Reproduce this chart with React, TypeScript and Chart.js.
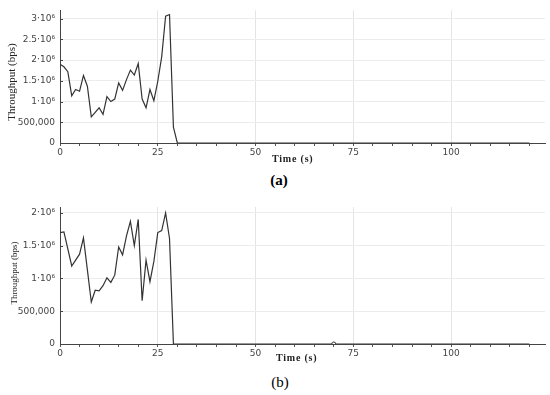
import React, { useEffect, useRef } from "react";
import { Chart, registerables } from "chart.js";

Chart.register(...registerables);

// ---- data ----
const timeA = [0, 1, 2, 3, 4, 5, 6, 7, 8, 9, 10, 11, 12, 13, 14, 15, 16, 17, 18, 19, 20, 21, 22, 23, 24, 25, 26, 27, 28, 29, 30, 120];
const throughputA = [
  1.9e6, 1.84e6, 1.72e6, 1.14e6, 1.29e6, 1.25e6, 1.63e6, 1.37e6, 0.63e6, 0.74e6, 0.85e6, 0.69e6, 1.12e6, 1.0e6, 1.06e6, 1.45e6,
  1.27e6, 1.53e6, 1.76e6, 1.64e6, 1.92e6, 1.06e6, 0.85e6, 1.29e6, 1.02e6, 1.49e6, 2.08e6, 3.06e6, 3.1e6, 0.38e6, 0, 0,
];

const timeB = [0, 1, 2, 3, 4, 5, 6, 7, 8, 9, 10, 11, 12, 13, 14, 15, 16, 17, 18, 19, 20, 21, 22, 23, 24, 25, 26, 27, 28, 29, 70, 120];
const throughputB = [
  1.7e6, 1.71e6, 1.45e6, 1.19e6, 1.28e6, 1.37e6, 1.62e6, 1.13e6, 0.64e6, 0.82e6, 0.81e6, 0.89e6, 1.01e6, 0.94e6, 1.05e6, 1.48e6,
  1.36e6, 1.65e6, 1.87e6, 1.5e6, 1.9e6, 0.66e6, 1.28e6, 0.95e6, 1.26e6, 1.7e6, 1.73e6, 2.0e6, 1.61e6, 0, 0, 0,
];
const markerTimeB = 70;

const xTickValues = [0, 5, 10, 15, 20, 25, 30, 35, 40, 45, 50, 55, 60, 65, 70, 75, 80, 85, 90, 95, 100, 105, 110, 115, 120];
const xLabelValues = [0, 25, 50, 75, 100];
const yTickValuesA = [0, 500000, 1000000, 1500000, 2000000, 2500000, 3000000];
const yTickValuesB = [0, 500000, 1000000, 1500000, 2000000];

const xTitle = "Time (s)";
const yTitle = "Throughput (bps)";

function fmtY(v: number): string {
  if (v === 0) return "0";
  if (v === 500000) return "500,000";
  return `${v / 1e6}·10⁶`;
}

type PanelProps = {
  times: number[];
  values: number[];
  yTicks: number[];
  yMax: number;
  height: number;
  padTop: number;
  xAxisHeight: number;
  markerTime?: number;
  yTitleX: number;
  yTitleY: number;
  yTitleSize: number;
  xTitleValue: number;
  xTitleOffset: number;
};

function Panel(p: PanelProps) {
  const ref = useRef<HTMLCanvasElement | null>(null);
  useEffect(() => {
    if (!ref.current) return;
    const extras = {
      id: "extras",
      afterDraw(chart: any) {
        const ctx = chart.ctx as CanvasRenderingContext2D;
        const xs = chart.scales.x;
        const ys = chart.scales.y;
        ctx.save();
        ctx.strokeStyle = "#444";
        ctx.lineWidth = 1;
        ys.ticks.forEach((t: any) => {
          const py = Math.round(ys.getPixelForValue(t.value)) + 0.5;
          ctx.beginPath();
          ctx.moveTo(xs.left, py);
          ctx.lineTo(xs.left + 3, py);
          ctx.stroke();
        });
        ctx.fillStyle = "#222";
        ctx.textAlign = "center";
        ctx.textBaseline = "middle";
        (ctx as any).letterSpacing = "0.8px";
        ctx.font = 'bold 10px "Liberation Serif"';
        ctx.fillText(xTitle, xs.getPixelForValue(p.xTitleValue), ys.bottom + p.xTitleOffset);
        (ctx as any).letterSpacing = "0px";
        ctx.translate(p.yTitleX, p.yTitleY);
        ctx.rotate(-Math.PI / 2);
        ctx.font = `${p.yTitleSize}px "Liberation Serif"`;
        ctx.fillText(yTitle, 0, 0);
        ctx.restore();
      },
    };
    const chart = new Chart(ref.current, {
      type: "line",
      data: {
        datasets: [
          {
            data: p.times.map((t, i) => ({ x: t, y: p.values[i] })),
            borderColor: "#333",
            borderWidth: 1.2,
            backgroundColor: "#fff",
            fill: false,
            tension: 0,
            pointRadius: (c: any) => (p.markerTime !== undefined && c.raw && c.raw.x === p.markerTime ? 2 : 0),
            pointBorderColor: "#333",
            pointBorderWidth: 1,
            pointBackgroundColor: "#fff",
          },
        ],
      },
      options: {
        animation: false,
        responsive: false,
        devicePixelRatio: 1,
        layout: { padding: { top: p.padTop, right: 5, left: 0, bottom: 0 } },
        plugins: { legend: { display: false }, tooltip: { enabled: false } },
        scales: {
          x: {
            type: "linear",
            min: 0,
            max: 124,
            afterBuildTicks: (s: any) => {
              s.ticks = xTickValues.map((v) => ({ value: v }));
            },
            afterFit: (s: any) => {
              s.height = p.xAxisHeight;
            },
            ticks: {
              autoSkip: false,
              maxRotation: 0,
              padding: 1,
              color: "#444",
              font: { family: '"DejaVu Sans"', size: 9 },
              callback: (v: any) => (xLabelValues.includes(Number(v)) ? String(v) : ""),
            },
            grid: {
              color: (c: any) => (c.tick && xLabelValues.includes(c.tick.value) && c.tick.value > 0 ? "#e4e4e4" : "rgba(0,0,0,0)"),
              tickColor: "#555",
              tickLength: 3,
              lineWidth: 1,
            },
            border: { color: "#444", width: 1 },
          },
          y: {
            min: 0,
            max: p.yMax,
            afterBuildTicks: (s: any) => {
              s.ticks = p.yTicks.map((v) => ({ value: v }));
            },
            afterFit: (s: any) => {
              s.width = 60;
            },
            ticks: {
              padding: 5,
              color: "#444",
              font: { family: '"DejaVu Sans"', size: 9 },
              callback: (v: any) => fmtY(Number(v)),
            },
            grid: {
              drawTicks: false,
              color: (c: any) => (c.tick && c.tick.value > 0 ? "#ececec" : "rgba(0,0,0,0)"),
            },
            border: { color: "#444", width: 1 },
          },
        },
      },
      plugins: [extras],
    } as any);
    return () => chart.destroy();
  }, []);
  return <canvas ref={ref} width={550} height={p.height} style={{ display: "block", width: 550, height: p.height }} />;
}

export default function App() {
  return (
    <div style={{ position: "absolute", left: 0, top: 0, width: 550, height: 395, background: "#fff", overflow: "hidden" }}>
      <div style={{ position: "absolute", left: 0, top: 0 }}>
        <Panel
          times={timeA}
          values={throughputA}
          yTicks={yTickValuesA}
          yMax={3.2e6}
          height={170}
          padTop={7}
          xAxisHeight={27}
          yTitleX={12}
          yTitleY={82}
          yTitleSize={11}
          xTitleValue={59.5}
          xTitleOffset={16}
        />
      </div>
      <div style={{ position: "absolute", left: 257, top: 171, width: 44, textAlign: "center", font: 'bold 15px "Liberation Serif"', lineHeight: "18px", color: "#000" }}>
        (a)
      </div>
      <div style={{ position: "absolute", left: 258, top: 373, width: 44, textAlign: "center", font: '15px "Liberation Serif"', lineHeight: "18px", color: "#000" }}>
        (b)
      </div>
      <div style={{ position: "absolute", left: 0, top: 195 }}>
        <Panel
          times={timeB}
          values={throughputB}
          yTicks={yTickValuesB}
          yMax={2.09e6}
          height={175}
          padTop={12}
          xAxisHeight={26}
          markerTime={markerTimeB}
          yTitleX={15}
          yTitleY={78}
          yTitleSize={9}
          xTitleValue={60.5}
          xTitleOffset={14}
        />
      </div>
    </div>
  );
}
